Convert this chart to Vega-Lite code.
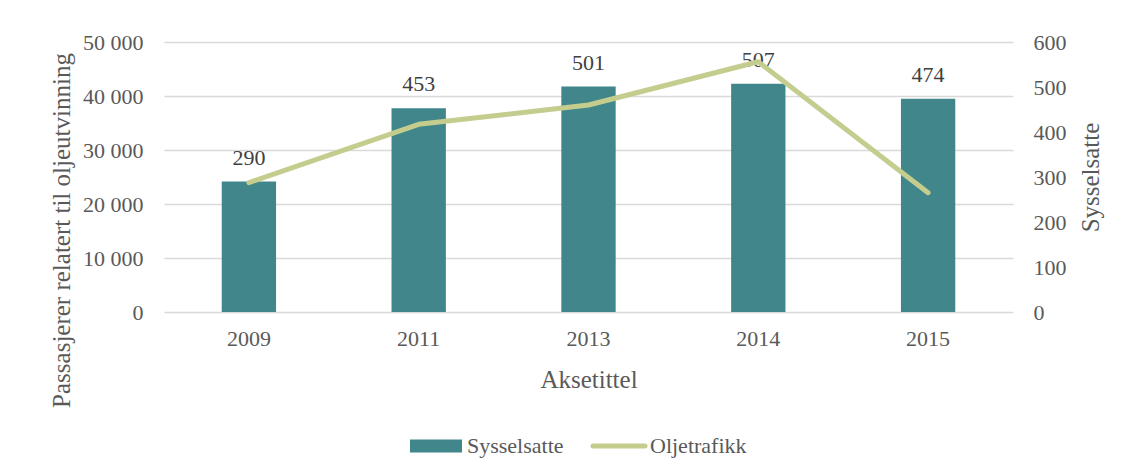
{
  "$schema": "https://vega.github.io/schema/vega-lite/v6.json",
  "width": 849,
  "height": 270,
  "autosize": {"type": "none"},
  "padding": {"left": 164, "top": 42, "right": 110, "bottom": 162},
  "background": "white",
  "config": {
    "font": "Liberation Serif",
    "view": {"stroke": null},
    "axis": {"labelFontSize": 22, "labelColor": "#595959", "titleFontSize": 25, "titleColor": "#595959", "titleFontWeight": "normal", "ticks": false, "domain": false}
  },
  "data": {
    "values": [
      {"year": "2009", "syss": 290, "olje": 23950},
      {"year": "2011", "syss": 453, "olje": 34760},
      {"year": "2013", "syss": 501, "olje": 38330},
      {"year": "2014", "syss": 507, "olje": 46350},
      {"year": "2015", "syss": 474, "olje": 22100}
    ]
  },
  "encoding": {
    "x": {
      "field": "year",
      "type": "ordinal",
      "scale": {"paddingInner": 0, "paddingOuter": 0},
      "axis": {"title": "Aksetittel", "labelAngle": 0, "labelPadding": 16, "titleY": 67, "titleBaseline": "middle", "grid": false}
    }
  },
  "layer": [
    {
      "mark": {"type": "bar", "width": {"band": 0.32}},
      "encoding": {
        "y": {
          "field": "syss",
          "type": "quantitative",
          "scale": {"domain": [0, 600]},
          "axis": {"orient": "right", "title": "Sysselsatte", "values": [0, 100, 200, 300, 400, 500, 600], "grid": false, "labelPadding": 20, "titleAngle": 270, "titleX": 77, "titleY": 135, "titleAlign": "center", "titleBaseline": "middle"}
        },
        "color": {
          "datum": "Sysselsatte",
          "scale": {"domain": ["Sysselsatte", "Oljetrafikk"], "range": ["#40868A", "#C5CD8E"]},
          "legend": {
            "orient": "none",
            "legendX": 261,
            "legendY": 393,
            "direction": "horizontal",
            "title": null,
            "labelFontSize": 22,
            "labelColor": "#595959",
            "labelOffset": 20,
            "columnPadding": 19,
            "symbolSize": 2704,
            "encode": {
              "symbols": {
                "update": {
                  "shape": {"signal": "datum.value === 'Oljetrafikk' ? 'M-1,0H1' : 'M-1,-0.25H1V0.25H-1Z'"},
                  "fill": {"signal": "datum.value === 'Oljetrafikk' ? 'transparent' : '#40868A'"},
                  "stroke": {"signal": "datum.value === 'Oljetrafikk' ? '#C5CD8E' : 'transparent'"},
                  "strokeWidth": {"signal": "datum.value === 'Oljetrafikk' ? 5 : 0"},
                  "strokeCap": {"value": "round"},
                  "opacity": {"value": 1}
                }
              }
            }
          }
        }
      }
    },
    {
      "mark": {"type": "text", "baseline": "middle", "dy": -24, "fontSize": 22, "color": "#404040"},
      "encoding": {
        "y": {"field": "syss", "type": "quantitative", "scale": {"domain": [0, 600]}, "axis": null},
        "text": {"field": "syss", "type": "quantitative"}
      }
    },
    {
      "mark": {"type": "line", "strokeWidth": 5, "strokeCap": "round", "strokeJoin": "round"},
      "encoding": {
        "y": {
          "field": "olje",
          "type": "quantitative",
          "scale": {"domain": [0, 50000]},
          "axis": {"orient": "left", "title": "Passasjerer relatert til oljeutvinning", "values": [0, 10000, 20000, 30000, 40000, 50000], "labelExpr": "replace(format(datum.value, ','), ',', ' ')", "grid": true, "gridColor": "#D9D9D9", "gridWidth": 1.3, "labelPadding": 21, "titleAngle": 270, "titleX": -103, "titleY": 188, "titleAlign": "center", "titleBaseline": "middle"}
        },
        "color": {"datum": "Oljetrafikk"}
      }
    }
  ],
  "resolve": {"scale": {"y": "independent"}}
}
